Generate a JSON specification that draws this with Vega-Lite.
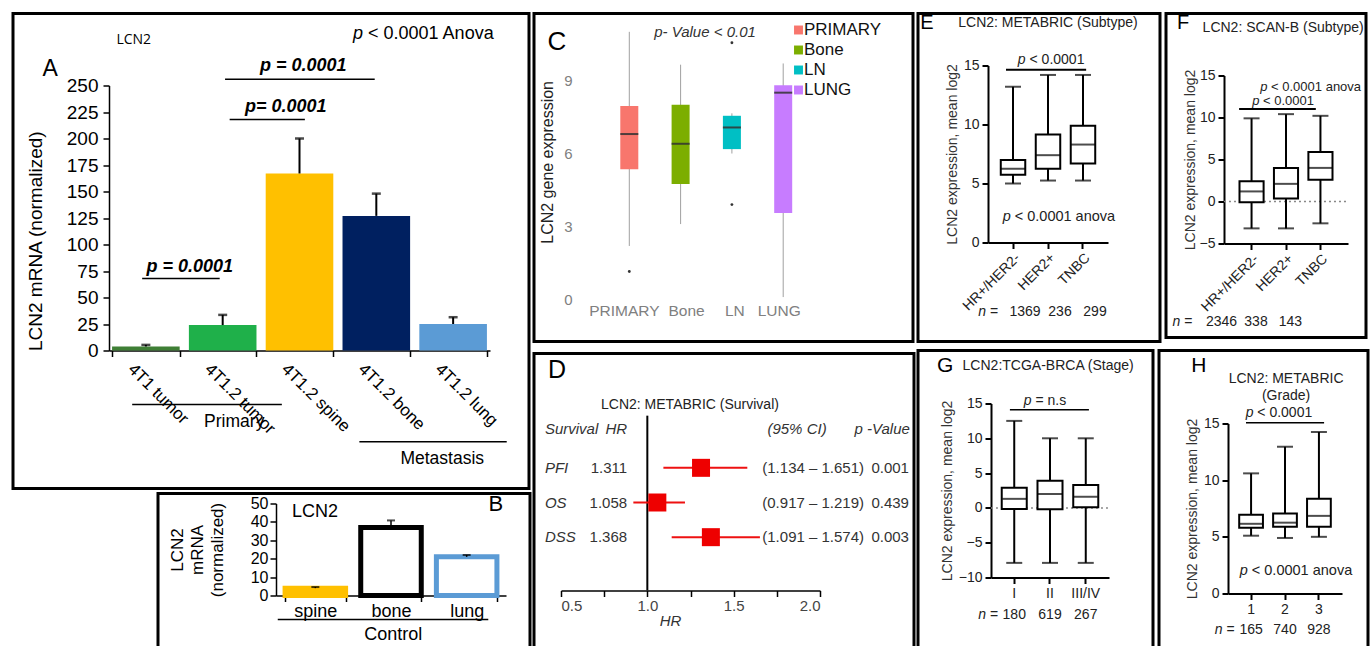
{
"$schema": "https://vega.github.io/schema/vega-lite/v6.json",
"background": "white",
"padding": {"left": 0, "top": 10.5, "right": 0, "bottom": 0},
"config": {
  "font": "Liberation Sans",
  "view": {"stroke": "#000", "strokeWidth": 3},
  "axis": {"grid": false, "domainColor": "#000", "tickColor": "#000", "labelColor": "#000", "titleColor": "#000", "titleFontWeight": "normal", "domainWidth": 1.5, "tickWidth": 1.5},
  "text": {"color": "#000"}
},
"resolve": {"scale": {"color": "independent", "fill": "independent", "stroke": "independent"}, "legend": {"color": "independent", "fill": "independent", "stroke": "independent"}},
"spacing": 0,
"hconcat": [
 {"spacing": 1, "resolve": {"scale": {"color": "independent", "fill": "independent", "stroke": "independent"}, "legend": {"color": "independent", "fill": "independent", "stroke": "independent"}}, "vconcat": [
  {"width": 516, "height": 475,
   "resolve": {"scale": {"x": "independent"}},
   "layer": [
    {"data": {"values": [{}]},
     "layer": [
      {"mark": {"type": "text", "text": "A", "fontSize": 23}, "encoding": {"x": {"datum": -1.25, "type": "quantitative", "scale": {"domain": [0, 4], "range": [133, 440], "nice": false, "zero": false}, "axis": null}, "y": {"datum": 266, "type": "quantitative"}}},
      {"mark": {"type": "text", "text": "LCN2", "fontSize": 14, "font": "Open Sans"}, "encoding": {"x": {"datum": -0.16, "type": "quantitative", "scale": {"domain": [0, 4], "range": [133, 440], "nice": false, "zero": false}, "axis": null}, "y": {"datum": 293, "type": "quantitative"}}},
      {"mark": {"type": "text", "text": "p", "fontSize": 18, "fontStyle": "italic", "align": "left", "dx": -70.8}, "encoding": {"x": {"datum": 3.62, "type": "quantitative", "scale": {"domain": [0, 4], "range": [133, 440], "nice": false, "zero": false}, "axis": null}, "y": {"datum": 299, "type": "quantitative"}}},
      {"mark": {"type": "text", "text": "< 0.0001 Anova", "fontSize": 18, "align": "left", "dx": -55.8}, "encoding": {"x": {"datum": 3.62, "type": "quantitative", "scale": {"domain": [0, 4], "range": [133, 440], "nice": false, "zero": false}, "axis": null}, "y": {"datum": 299, "type": "quantitative"}}},
      {"mark": {"type": "text", "text": "p = 0.0001", "fontSize": 18, "fontStyle": "italic", "fontWeight": "bold"}, "encoding": {"x": {"datum": 2.05, "type": "quantitative", "scale": {"domain": [0, 4], "range": [133, 440], "nice": false, "zero": false}, "axis": null}, "y": {"datum": 268, "type": "quantitative"}}},
      {"mark": {"type": "rule", "strokeWidth": 1.5, "color": "#000"}, "encoding": {"x": {"datum": 1.03, "type": "quantitative", "scale": {"domain": [0, 4], "range": [133, 440], "nice": false, "zero": false}, "axis": null}, "x2": {"datum": 2.98}, "y": {"datum": 256, "type": "quantitative"}}},
      {"mark": {"type": "text", "text": "p= 0.0001", "fontSize": 18, "fontStyle": "italic", "fontWeight": "bold"}, "encoding": {"x": {"datum": 1.82, "type": "quantitative", "scale": {"domain": [0, 4], "range": [133, 440], "nice": false, "zero": false}, "axis": null}, "y": {"datum": 230, "type": "quantitative"}}},
      {"mark": {"type": "rule", "strokeWidth": 1.5, "color": "#000"}, "encoding": {"x": {"datum": 1.09, "type": "quantitative", "scale": {"domain": [0, 4], "range": [133, 440], "nice": false, "zero": false}, "axis": null}, "x2": {"datum": 2.07}, "y": {"datum": 218, "type": "quantitative"}}},
      {"mark": {"type": "text", "text": "p = 0.0001", "fontSize": 18, "fontStyle": "italic", "fontWeight": "bold"}, "encoding": {"x": {"datum": 0.57, "type": "quantitative", "scale": {"domain": [0, 4], "range": [133, 440], "nice": false, "zero": false}, "axis": null}, "y": {"datum": 79, "type": "quantitative"}}},
      {"mark": {"type": "rule", "strokeWidth": 1.5, "color": "#000"}, "encoding": {"x": {"datum": -0.05, "type": "quantitative", "scale": {"domain": [0, 4], "range": [133, 440], "nice": false, "zero": false}, "axis": null}, "x2": {"datum": 0.96}, "y": {"datum": 68, "type": "quantitative"}}},
      {"mark": {"type": "rule", "strokeWidth": 1.5, "color": "#000"}, "encoding": {"x": {"datum": -0.18, "type": "quantitative", "scale": {"domain": [0, 4], "range": [133, 440], "nice": false, "zero": false}, "axis": null}, "x2": {"datum": 1.77}, "y": {"datum": -51, "type": "quantitative"}}},
      {"mark": {"type": "text", "text": "Primary", "fontSize": 17.5}, "encoding": {"x": {"datum": 1.15, "type": "quantitative", "scale": {"domain": [0, 4], "range": [133, 440], "nice": false, "zero": false}, "axis": null}, "y": {"datum": -67, "type": "quantitative"}}},
      {"mark": {"type": "rule", "strokeWidth": 1.5, "color": "#000"}, "encoding": {"x": {"datum": 2.78, "type": "quantitative", "scale": {"domain": [0, 4], "range": [133, 440], "nice": false, "zero": false}, "axis": null}, "x2": {"datum": 4.7}, "y": {"datum": -86, "type": "quantitative"}}},
      {"mark": {"type": "text", "text": "Metastasis", "fontSize": 17.5}, "encoding": {"x": {"datum": 3.86, "type": "quantitative", "scale": {"domain": [0, 4], "range": [133, 440], "nice": false, "zero": false}, "axis": null}, "y": {"datum": -102, "type": "quantitative"}}}
     ]},
    {"data": {"values": [
      {"group": "4T1 tumor", "mean": 3.8, "upper": 5.3},
      {"group": "4T1.2 tumor", "mean": 24, "upper": 33.6},
      {"group": "4T1.2 spine", "mean": 167, "upper": 200},
      {"group": "4T1.2 bone", "mean": 127, "upper": 148},
      {"group": "4T1.2 lung", "mean": 25, "upper": 31.4}
     ]},
     "encoding": {"x": {"field": "group", "type": "nominal", "sort": null, "scale": {"range": [96, 477], "paddingInner": 0.12, "paddingOuter": 0.04},
        "axis": {"title": null, "labelAngle": 45, "labelAlign": "left", "labelBaseline": "top", "labelFontSize": 17, "offset": -138, "tickBand": "extent", "tickSize": 6, "labelPadding": 4, "labelOffset": -10}}},
     "layer": [
      {"mark": {"type": "bar"}, "encoding": {
        "y": {"field": "mean", "type": "quantitative", "scale": {"domain": [0, 250], "range": [337, 72], "nice": false},
              "axis": {"title": "LCN2 mRNA (normalized)", "values": [0, 25, 50, 75, 100, 125, 150, 175, 200, 225, 250], "offset": -96, "labelFontSize": 19, "titleFontSize": 19, "tickSize": 6, "labelPadding": 5, "titlePadding": 21, "titleAnchor": "start", "labelOverlap": false}},
        "color": {"field": "group", "type": "nominal", "sort": null, "scale": {"range": ["#3f7f35", "#1fb04a", "#ffc000", "#002060", "#5b9bd5"]}, "legend": null}}},
      {"mark": {"type": "rule", "strokeWidth": 2, "color": "#000"}, "encoding": {"y": {"field": "mean", "type": "quantitative"}, "y2": {"field": "upper"}}},
      {"mark": {"type": "tick", "thickness": 2.5, "size": 9, "color": "#000"}, "encoding": {"y": {"field": "upper", "type": "quantitative"}}}
     ]}
   ]},
  {"spacing": 1, "resolve": {"scale": {"color": "independent", "fill": "independent", "stroke": "independent"}, "legend": {"color": "independent", "fill": "independent", "stroke": "independent"}}, "hconcat": [
    {"width": 140, "height": 160, "view": {"stroke": "#ffffff", "strokeWidth": 3}, "data": {"values": [{}]}, "mark": {"type": "text", "text": ""}, "encoding": {}},
    {"width": 372, "height": 160,
     "resolve": {"scale": {"x": "independent"}},
     "layer": [
      {"data": {"values": [{}]},
       "layer": [
        {"mark": {"type": "rule", "strokeWidth": 1.5, "color": "#000"}, "encoding": {"x": {"datum": -0.49, "type": "quantitative", "scale": {"domain": [0, 2], "range": [157, 309], "nice": false, "zero": false}, "axis": null}, "x2": {"datum": 2.28}, "y": {"datum": -13, "type": "quantitative"}}},
        {"mark": {"type": "text", "text": "Control", "fontSize": 18}, "encoding": {"x": {"datum": 1.03, "type": "quantitative", "scale": {"domain": [0, 2], "range": [157, 309], "nice": false, "zero": false}, "axis": null}, "y": {"datum": -21.7, "type": "quantitative"}}},
        {"mark": {"type": "text", "text": "LCN2", "fontSize": 18}, "encoding": {"x": {"datum": 0.0, "type": "quantitative", "scale": {"domain": [0, 2], "range": [157, 309], "nice": false, "zero": false}, "axis": null}, "y": {"datum": 45.6, "type": "quantitative"}}},
        {"mark": {"type": "text", "text": "B", "fontSize": 22}, "encoding": {"x": {"datum": 2.38, "type": "quantitative", "scale": {"domain": [0, 2], "range": [157, 309], "nice": false, "zero": false}, "axis": null}, "y": {"datum": 49.5, "type": "quantitative"}}}
       ]},
      {"data": {"values": [
        {"site": "spine", "mean": 4, "upper": 4.6},
        {"site": "bone", "mean": 37, "upper": 40.8},
        {"site": "lung", "mean": 21, "upper": 22}
       ]},
       "encoding": {"x": {"field": "site", "type": "nominal", "sort": null, "scale": {"range": [118, 348], "paddingInner": 0.2, "paddingOuter": 0.12},
          "axis": {"title": null, "labelAngle": 0, "labelFontSize": 18, "offset": -58, "tickBand": "extent", "tickSize": 6, "labelPadding": 1}}},
       "layer": [
        {"mark": {"type": "bar", "strokeWidth": 5}, "encoding": {
          "y": {"field": "mean", "type": "quantitative", "scale": {"domain": [0, 50], "range": [102, 10], "nice": false},
                "axis": {"title": ["LCN2", "mRNA", "(normalized)"], "values": [0, 10, 20, 30, 40, 50], "tickCount": 6, "offset": -118, "labelFontSize": 16, "labelOverlap": false, "titleFontSize": 17, "tickSize": 6, "labelPadding": 2, "titlePadding": 24, "titleLineHeight": 20}},
          "fill": {"field": "site", "type": "nominal", "sort": null, "scale": {"range": ["#ffc000", "#ffffff", "#ffffff"]}, "legend": null},
          "stroke": {"field": "site", "type": "nominal", "sort": null, "scale": {"range": ["#ffc000", "#000000", "#5b9bd5"]}, "legend": null}}},
        {"mark": {"type": "rule", "strokeWidth": 1.5, "color": "#000"}, "encoding": {"y": {"field": "mean", "type": "quantitative"}, "y2": {"field": "upper"}}},
        {"mark": {"type": "tick", "thickness": 2, "size": 8, "color": "#000"}, "encoding": {"y": {"field": "upper", "type": "quantitative"}}}
       ]}
     ]}
  ]}
 ]},
 {"spacing": 8, "resolve": {"scale": {"color": "independent"}, "legend": {"color": "independent"}}, "vconcat": [
  {"width": 379, "height": 328,
   "resolve": {"scale": {"x": "independent"}},
   "layer": [
    {"data": {"values": [{}]},
     "layer": [
      {"mark": {"type": "text", "text": "C", "fontSize": 26}, "encoding": {"x": {"datum": -1.41, "type": "quantitative", "scale": {"domain": [0, 3], "range": [95.3, 249.2], "nice": false, "zero": false}, "axis": null}, "y": {"datum": 10.6, "type": "quantitative"}}},
      {"mark": {"type": "text", "text": "p- Value < 0.01", "fontSize": 15, "fontStyle": "italic", "color": "#333"}, "encoding": {"x": {"datum": 1.476, "type": "quantitative", "scale": {"domain": [0, 3], "range": [95.3, 249.2], "nice": false, "zero": false}, "axis": null}, "y": {"datum": 11.0, "type": "quantitative"}}}
     ]},
    {"data": {"values": [
      {"site": "PRIMARY", "low": 2.2, "q1": 5.35, "median": 6.8, "q3": 7.95, "high": 11.0},
      {"site": "Bone", "low": 3.1, "q1": 4.75, "median": 6.4, "q3": 8.0, "high": 9.65},
      {"site": "LN", "low": 6.0, "q1": 6.18, "median": 7.07, "q3": 7.55, "high": 7.65},
      {"site": "LUNG", "low": 0.1, "q1": 3.55, "median": 8.5, "q3": 8.8, "high": 9.7}
     ]},
     "encoding": {"x": {"field": "site", "type": "nominal", "sort": null, "scale": {"range": [42, 302.5], "paddingInner": 0.649, "paddingOuter": 0.8635},
        "axis": {"title": null, "labelAngle": 0, "domain": false, "ticks": false, "labelColor": "#808080", "labelFontSize": 15.5, "offset": -40, "labelPadding": 2,
                 "labelOffset": {"condition": [{"test": "datum.value === 'PRIMARY'", "value": -5}, {"test": "datum.value === 'Bone'", "value": 6}, {"test": "datum.value === 'LN'", "value": 3}, {"test": "datum.value === 'LUNG'", "value": -4}], "value": 0}}}},
     "layer": [
      {"mark": {"type": "rule", "color": "#a0a0a0", "strokeWidth": 1}, "encoding": {
        "y": {"field": "low", "type": "quantitative", "scale": {"domain": [0, 9], "range": [286, 67], "nice": false, "zero": false},
              "axis": {"title": "LCN2 gene expression", "values": [0, 3, 6, 9], "domain": false, "ticks": false, "labelColor": "#808080", "labelFontSize": 15, "offset": -42, "labelPadding": 4, "titleFontSize": 16, "titleColor": "#222", "titleAnchor": "end", "titlePadding": 8}},
        "y2": {"field": "high"}}},
      {"mark": {"type": "bar"}, "encoding": {
        "y": {"field": "q1", "type": "quantitative"}, "y2": {"field": "q3"},
        "color": {"field": "site", "type": "nominal", "sort": null, "scale": {"domain": ["PRIMARY", "Bone", "LN", "LUNG"], "range": ["#F8766D", "#7CAE00", "#00BFC4", "#C77CFF"]},
                  "legend": {"title": null, "orient": "none", "legendX": 256, "legendY": 8, "padding": 0, "symbolType": "square", "symbolSize": 80, "labelFontSize": 17, "rowPadding": 2, "labelColor": "#111", "labelOffset": -3}}}},
      {"mark": {"type": "tick", "color": "#333", "thickness": 2, "size": 18, "opacity": 0.85}, "encoding": {"y": {"field": "median", "type": "quantitative"}}},
      {"data": {"values": [{"site": "PRIMARY", "value": 1.15}, {"site": "LN", "value": 3.9}, {"site": "LN", "value": 10.55}]},
       "mark": {"type": "circle", "size": 8, "color": "#333", "opacity": 1}, "encoding": {"y": {"field": "value", "type": "quantitative"}}}
     ]}
   ]},
  {"width": 380, "height": 305,
   "resolve": {"scale": {"y": "independent"}},
   "layer": [
    {"data": {"values": [{}]},
     "layer": [
      {"mark": {"type": "rule", "strokeWidth": 2, "color": "#000"}, "encoding": {"x": {"datum": 1, "type": "quantitative"}, "y": {"datum": -0.67, "type": "quantitative", "scale": {"domain": [0, 2], "range": [97, 201], "nice": false, "zero": false}, "axis": null}, "y2": {"datum": 2.69}}},
      {"mark": {"type": "text", "text": "Survival", "fontSize": 15, "fontStyle": "italic", "align": "left", "color": "#333"}, "encoding": {"x": {"datum": 0.407, "type": "quantitative"}, "y": {"datum": -0.42, "type": "quantitative", "scale": {"domain": [0, 2], "range": [97, 201], "nice": false, "zero": false}, "axis": null}}},
      {"mark": {"type": "text", "text": "HR", "fontSize": 15, "fontStyle": "italic", "align": "right", "color": "#333"}, "encoding": {"x": {"datum": 0.883, "type": "quantitative"}, "y": {"datum": -0.42, "type": "quantitative", "scale": {"domain": [0, 2], "range": [97, 201], "nice": false, "zero": false}, "axis": null}}},
      {"mark": {"type": "text", "text": "(95% CI)", "fontSize": 15, "fontStyle": "italic", "color": "#333"}, "encoding": {"x": {"datum": 1.867, "type": "quantitative"}, "y": {"datum": -0.42, "type": "quantitative", "scale": {"domain": [0, 2], "range": [97, 201], "nice": false, "zero": false}, "axis": null}}},
      {"mark": {"type": "text", "text": "p -Value", "fontSize": 15, "fontStyle": "italic", "color": "#333"}, "encoding": {"x": {"datum": 2.36, "type": "quantitative"}, "y": {"datum": -0.42, "type": "quantitative", "scale": {"domain": [0, 2], "range": [97, 201], "nice": false, "zero": false}, "axis": null}}},
      {"mark": {"type": "text", "text": "LCN2: METABRIC (Survival)", "fontSize": 14, "color": "#222"}, "encoding": {"x": {"datum": 1.247, "type": "quantitative"}, "y": {"datum": -0.87, "type": "quantitative", "scale": {"domain": [0, 2], "range": [97, 201], "nice": false, "zero": false}, "axis": null}}},
      {"mark": {"type": "text", "text": "D", "fontSize": 25}, "encoding": {"x": {"datum": 0.477, "type": "quantitative"}, "y": {"datum": -1.54, "type": "quantitative", "scale": {"domain": [0, 2], "range": [97, 201], "nice": false, "zero": false}, "axis": null}}}
     ]},
    {"data": {"values": [
      {"outcome": "PFI", "hr": 1.311, "lo": 1.093, "hi": 1.579, "ci": "(1.134 – 1.651)", "p": "0.001"},
      {"outcome": "OS", "hr": 1.058, "lo": 0.919, "hi": 1.218, "ci": "(0.917 – 1.219)", "p": "0.439"},
      {"outcome": "DSS", "hr": 1.368, "lo": 1.141, "hi": 1.652, "ci": "(1.091 – 1.574)", "p": "0.003"}
     ]},
     "encoding": {"y": {"field": "outcome", "type": "nominal", "sort": null, "scale": {"range": [97, 201], "padding": 0}, "axis": null}},
     "layer": [
      {"mark": {"type": "rule", "strokeWidth": 2, "color": "#ee1111"}, "encoding": {
        "x": {"field": "lo", "type": "quantitative", "scale": {"domain": [0.5, 2], "range": [27, 286], "nice": false, "zero": false},
              "axis": {"title": "HR", "values": [0.5, 0.75, 1, 1.25, 1.5, 1.75, 2], "labelExpr": "datum.value * 2 % 1 == 0 ? format(datum.value, '.1f') : ''", "offset": -68, "labelFontSize": 15, "labelColor": "#444", "titleFontSize": 15, "titleFontStyle": "italic", "titleColor": "#333", "tickSize": 6, "titleX": 136, "titleY": 30, "titleBaseline": "middle"}},
        "x2": {"field": "hi"}}},
      {"mark": {"type": "square", "size": 324, "color": "#ee0000", "opacity": 1}, "encoding": {"x": {"field": "hr", "type": "quantitative"}}},
      {"mark": {"type": "text", "fontSize": 15, "fontStyle": "italic", "align": "left", "color": "#333"}, "encoding": {"x": {"datum": 0.407, "type": "quantitative"}, "text": {"field": "outcome"}}},
      {"mark": {"type": "text", "fontSize": 15, "align": "right", "color": "#333"}, "encoding": {"x": {"datum": 0.883, "type": "quantitative"}, "text": {"field": "hr", "type": "quantitative", "format": ".3f"}}},
      {"mark": {"type": "text", "fontSize": 15, "align": "right", "color": "#333"}, "encoding": {"x": {"datum": 2.255, "type": "quantitative"}, "text": {"field": "ci"}}},
      {"mark": {"type": "text", "fontSize": 15, "align": "right", "color": "#333"}, "encoding": {"x": {"datum": 2.515, "type": "quantitative"}, "text": {"field": "p"}}}
     ]}
   ]}
 ]},
 {"spacing": 5, "vconcat": [
  {"spacing": 2, "hconcat": [
   {"width": 242, "height": 328,
    "resolve": {"scale": {"x": "independent"}},
    "layer": [
     {"data": {"values": [{}]},
      "layer": [
       {"mark": {"type": "text", "text": "E", "fontSize": 20}, "encoding": {"x": {"datum": -2.46, "type": "quantitative", "scale": {"domain": [0, 2], "range": [95, 165], "nice": false, "zero": false}, "axis": null}, "y": {"datum": 18.64, "type": "quantitative"}}},
       {"mark": {"type": "text", "text": "LCN2: METABRIC (Subtype)", "fontSize": 14, "color": "#222"}, "encoding": {"x": {"datum": 1.0, "type": "quantitative", "scale": {"domain": [0, 2], "range": [95, 165], "nice": false, "zero": false}, "axis": null}, "y": {"datum": 18.64, "type": "quantitative"}}},
       {"mark": {"type": "text", "text": "p", "fontSize": 14, "fontStyle": "italic", "align": "left", "dx": -33.3, "color": "#222"}, "encoding": {"x": {"datum": 1.09, "type": "quantitative", "scale": {"domain": [0, 2], "range": [95, 165], "nice": false, "zero": false}, "axis": null}, "y": {"datum": 15.5, "type": "quantitative"}}},
       {"mark": {"type": "text", "text": "< 0.0001", "fontSize": 14, "align": "left", "dx": -21.6, "color": "#222"}, "encoding": {"x": {"datum": 1.09, "type": "quantitative", "scale": {"domain": [0, 2], "range": [95, 165], "nice": false, "zero": false}, "axis": null}, "y": {"datum": 15.5, "type": "quantitative"}}},
       {"mark": {"type": "rule", "strokeWidth": 2, "color": "#000"}, "encoding": {"x": {"datum": -0.2, "type": "quantitative", "scale": {"domain": [0, 2], "range": [95, 165], "nice": false, "zero": false}, "axis": null}, "x2": {"datum": 2.09}, "y": {"datum": 14.65, "type": "quantitative"}}},
       {"mark": {"type": "text", "text": "p", "fontSize": 14.5, "fontStyle": "italic", "align": "left", "dx": -56.2, "color": "#222"}, "encoding": {"x": {"datum": 1.31, "type": "quantitative", "scale": {"domain": [0, 2], "range": [95, 165], "nice": false, "zero": false}, "axis": null}, "y": {"datum": 2.2, "type": "quantitative"}}},
       {"mark": {"type": "text", "text": "< 0.0001 anova", "fontSize": 14.5, "align": "left", "dx": -44.1, "color": "#222"}, "encoding": {"x": {"datum": 1.31, "type": "quantitative", "scale": {"domain": [0, 2], "range": [95, 165], "nice": false, "zero": false}, "axis": null}, "y": {"datum": 2.2, "type": "quantitative"}}},
       {"mark": {"type": "text", "text": "n", "fontSize": 14, "fontStyle": "italic", "align": "left", "dx": -9.9, "color": "#222"}, "encoding": {"x": {"datum": -0.71, "type": "quantitative", "scale": {"domain": [0, 2], "range": [95, 165], "nice": false, "zero": false}, "axis": null}, "y": {"datum": -5.85, "type": "quantitative"}}},
       {"mark": {"type": "text", "text": "=", "fontSize": 14, "align": "left", "dx": 1.8, "color": "#222"}, "encoding": {"x": {"datum": -0.71, "type": "quantitative", "scale": {"domain": [0, 2], "range": [95, 165], "nice": false, "zero": false}, "axis": null}, "y": {"datum": -5.85, "type": "quantitative"}}}
      ]},
     {"data": {"values": [
       {"subtype": "HR+/HER2-", "low": 5.0, "q1": 5.75, "median": 6.25, "q3": 7.0, "high": 13.2, "n": 1369},
       {"subtype": "HER2+", "low": 5.25, "q1": 6.25, "median": 7.4, "q3": 9.15, "high": 14.2, "n": 236},
       {"subtype": "TNBC", "low": 5.25, "q1": 6.7, "median": 8.3, "q3": 9.9, "high": 14.2, "n": 299}
      ]},
      "encoding": {"x": {"field": "subtype", "type": "nominal", "sort": null, "scale": {"range": [70, 190], "paddingInner": 0.3, "paddingOuter": 0.365},
         "axis": {"title": null, "labelAngle": -45, "labelFontSize": 14, "labelColor": "#222", "offset": -99, "tickSize": 6, "domainWidth": 2, "tickWidth": 2, "labelPadding": 2}}},
      "layer": [
       {"mark": {"type": "rule", "strokeWidth": 2, "color": "#000"}, "encoding": {
         "y": {"field": "low", "type": "quantitative", "scale": {"domain": [0, 15], "range": [229, 52], "nice": false, "zero": false},
               "axis": {"title": "LCN2 expression, mean log2", "values": [0, 5, 10, 15], "offset": -70, "labelFontSize": 14, "labelColor": "#222", "titleFontSize": 14, "titleColor": "#333", "tickSize": 6, "domainWidth": 2, "tickWidth": 2, "labelPadding": 3, "titlePadding": 4}},
         "y2": {"field": "high"}}},
       {"mark": {"type": "bar", "fill": "#fff", "stroke": "#000", "strokeWidth": 2}, "encoding": {"y": {"field": "q1", "type": "quantitative"}, "y2": {"field": "q3"}}},
       {"mark": {"type": "tick", "color": "#000", "thickness": 2, "size": 24}, "encoding": {"y": {"field": "median", "type": "quantitative"}}},
       {"mark": {"type": "tick", "color": "#000", "thickness": 2, "size": 16}, "encoding": {"y": {"field": "low", "type": "quantitative"}}},
       {"mark": {"type": "tick", "color": "#000", "thickness": 2, "size": 16}, "encoding": {"y": {"field": "high", "type": "quantitative"}}},
       {"mark": {"type": "text", "fontSize": 14, "dx": 12, "color": "#222"}, "encoding": {"y": {"datum": -5.85, "type": "quantitative"}, "text": {"field": "n"}}}
      ]}
    ]},
   {"width": 200, "height": 324,
    "resolve": {"scale": {"x": "independent"}},
    "layer": [
     {"data": {"values": [{}]},
      "layer": [
       {"mark": {"type": "rule", "strokeWidth": 1.5, "color": "#888", "strokeDash": [2, 3]}, "encoding": {"x": {"datum": -0.8, "type": "quantitative", "scale": {"domain": [0, 2], "range": [85.5, 154.3], "nice": false, "zero": false}, "axis": null}, "x2": {"datum": 2.8}, "y": {"datum": 0, "type": "quantitative"}}},
       {"mark": {"type": "text", "text": "F", "fontSize": 20}, "encoding": {"x": {"datum": -1.99, "type": "quantitative", "scale": {"domain": [0, 2], "range": [85.5, 154.3], "nice": false, "zero": false}, "axis": null}, "y": {"datum": 21.3, "type": "quantitative"}}},
       {"mark": {"type": "text", "text": "LCN2: SCAN-B (Subtype)", "fontSize": 14, "color": "#222"}, "encoding": {"x": {"datum": 0.92, "type": "quantitative", "scale": {"domain": [0, 2], "range": [85.5, 154.3], "nice": false, "zero": false}, "axis": null}, "y": {"datum": 20.6, "type": "quantitative"}}},
       {"mark": {"type": "text", "text": "p", "fontSize": 13, "fontStyle": "italic", "align": "left", "dx": -50.4, "color": "#222"}, "encoding": {"x": {"datum": 1.72, "type": "quantitative", "scale": {"domain": [0, 2], "range": [85.5, 154.3], "nice": false, "zero": false}, "axis": null}, "y": {"datum": 13.65, "type": "quantitative"}}},
       {"mark": {"type": "text", "text": "< 0.0001 anova", "fontSize": 13, "align": "left", "dx": -39.6, "color": "#222"}, "encoding": {"x": {"datum": 1.72, "type": "quantitative", "scale": {"domain": [0, 2], "range": [85.5, 154.3], "nice": false, "zero": false}, "axis": null}, "y": {"datum": 13.65, "type": "quantitative"}}},
       {"mark": {"type": "text", "text": "p", "fontSize": 13, "fontStyle": "italic", "align": "left", "dx": -30.9, "color": "#222"}, "encoding": {"x": {"datum": 0.92, "type": "quantitative", "scale": {"domain": [0, 2], "range": [85.5, 154.3], "nice": false, "zero": false}, "axis": null}, "y": {"datum": 11.95, "type": "quantitative"}}},
       {"mark": {"type": "text", "text": "< 0.0001", "fontSize": 13, "align": "left", "dx": -20.1, "color": "#222"}, "encoding": {"x": {"datum": 0.92, "type": "quantitative", "scale": {"domain": [0, 2], "range": [85.5, 154.3], "nice": false, "zero": false}, "axis": null}, "y": {"datum": 11.95, "type": "quantitative"}}},
       {"mark": {"type": "rule", "strokeWidth": 2, "color": "#000"}, "encoding": {"x": {"datum": -0.36, "type": "quantitative", "scale": {"domain": [0, 2], "range": [85.5, 154.3], "nice": false, "zero": false}, "axis": null}, "x2": {"datum": 1.87}, "y": {"datum": 11.0, "type": "quantitative"}}},
       {"mark": {"type": "text", "text": "n", "fontSize": 14, "fontStyle": "italic", "align": "left", "dx": -9.9, "color": "#222"}, "encoding": {"x": {"datum": -2.01, "type": "quantitative", "scale": {"domain": [0, 2], "range": [85.5, 154.3], "nice": false, "zero": false}, "axis": null}, "y": {"datum": -14.3, "type": "quantitative"}}},
       {"mark": {"type": "text", "text": "=", "fontSize": 14, "align": "left", "dx": 1.8, "color": "#222"}, "encoding": {"x": {"datum": -2.01, "type": "quantitative", "scale": {"domain": [0, 2], "range": [85.5, 154.3], "nice": false, "zero": false}, "axis": null}, "y": {"datum": -14.3, "type": "quantitative"}}}
      ]},
     {"data": {"values": [
       {"subtype": "HR+/HER2-", "low": -3.2, "q1": -0.1, "median": 1.2, "q3": 2.4, "high": 9.9, "n": 2346},
       {"subtype": "HER2+", "low": -3.2, "q1": 0.35, "median": 2.1, "q3": 4.0, "high": 10.4, "n": 338},
       {"subtype": "TNBC", "low": -2.6, "q1": 2.6, "median": 4.0, "q3": 5.9, "high": 10.2, "n": 143}
      ]},
      "encoding": {"x": {"field": "subtype", "type": "nominal", "sort": null, "scale": {"range": [58, 182], "paddingInner": 0.3, "paddingOuter": 0.45},
         "axis": {"title": null, "labelAngle": -45, "labelFontSize": 14, "labelColor": "#222", "offset": -94, "tickSize": 6, "domainWidth": 2, "tickWidth": 2, "labelPadding": 2}}},
      "layer": [
       {"mark": {"type": "rule", "strokeWidth": 2, "color": "#000"}, "encoding": {
         "y": {"field": "low", "type": "quantitative", "scale": {"domain": [-5, 15], "range": [230, 62], "nice": false, "zero": false},
               "axis": {"title": "LCN2 expression, mean log2", "values": [-5, 0, 5, 10, 15], "offset": -58, "labelFontSize": 14, "labelColor": "#222", "titleFontSize": 14, "titleColor": "#333", "tickSize": 6, "domainWidth": 2, "tickWidth": 2, "labelPadding": 3, "titlePadding": 2}},
         "y2": {"field": "high"}}},
       {"mark": {"type": "bar", "fill": "#fff", "stroke": "#000", "strokeWidth": 2}, "encoding": {"y": {"field": "q1", "type": "quantitative"}, "y2": {"field": "q3"}}},
       {"mark": {"type": "tick", "color": "#000", "thickness": 2, "size": 24}, "encoding": {"y": {"field": "median", "type": "quantitative"}}},
       {"mark": {"type": "tick", "color": "#000", "thickness": 2, "size": 16}, "encoding": {"y": {"field": "low", "type": "quantitative"}}},
       {"mark": {"type": "tick", "color": "#000", "thickness": 2, "size": 16}, "encoding": {"y": {"field": "high", "type": "quantitative"}}},
       {"mark": {"type": "text", "fontSize": 14, "dx": -30, "color": "#222"}, "encoding": {"y": {"datum": -14.3, "type": "quantitative"}, "text": {"field": "n"}}}
      ]}
    ]}
  ]},
  {"spacing": 2, "hconcat": [
   {"width": 235, "height": 305,
    "resolve": {"scale": {"x": "independent"}},
    "layer": [
     {"data": {"values": [{}]},
      "layer": [
       {"mark": {"type": "rule", "strokeWidth": 1.5, "color": "#888", "strokeDash": [2, 3]}, "encoding": {"x": {"datum": -0.65, "type": "quantitative", "scale": {"domain": [0, 2], "range": [96.2, 167.7], "nice": false, "zero": false}, "axis": null}, "x2": {"datum": 2.65}, "y": {"datum": 0, "type": "quantitative"}}},
       {"mark": {"type": "text", "text": "G", "fontSize": 21}, "encoding": {"x": {"datum": -1.93, "type": "quantitative", "scale": {"domain": [0, 2], "range": [96.2, 167.7], "nice": false, "zero": false}, "axis": null}, "y": {"datum": 20.4, "type": "quantitative"}}},
       {"mark": {"type": "text", "text": "LCN2:TCGA-BRCA (Stage)", "fontSize": 14, "color": "#222"}, "encoding": {"x": {"datum": 0.95, "type": "quantitative", "scale": {"domain": [0, 2], "range": [96.2, 167.7], "nice": false, "zero": false}, "axis": null}, "y": {"datum": 20.4, "type": "quantitative"}}},
       {"mark": {"type": "text", "text": "p", "fontSize": 14, "fontStyle": "italic", "align": "left", "dx": -21.2, "color": "#222"}, "encoding": {"x": {"datum": 0.86, "type": "quantitative", "scale": {"domain": [0, 2], "range": [96.2, 167.7], "nice": false, "zero": false}, "axis": null}, "y": {"datum": 15.4, "type": "quantitative"}}},
       {"mark": {"type": "text", "text": "= n.s", "fontSize": 14, "align": "left", "dx": -9.5, "color": "#222"}, "encoding": {"x": {"datum": 0.86, "type": "quantitative", "scale": {"domain": [0, 2], "range": [96.2, 167.7], "nice": false, "zero": false}, "axis": null}, "y": {"datum": 15.4, "type": "quantitative"}}},
       {"mark": {"type": "rule", "strokeWidth": 1.5, "color": "#000"}, "encoding": {"x": {"datum": -0.12, "type": "quantitative", "scale": {"domain": [0, 2], "range": [96.2, 167.7], "nice": false, "zero": false}, "axis": null}, "x2": {"datum": 2.09}, "y": {"datum": 14.1, "type": "quantitative"}}},
       {"mark": {"type": "text", "text": "n", "fontSize": 14, "fontStyle": "italic", "align": "left", "dx": -9.9, "color": "#222"}, "encoding": {"x": {"datum": -0.73, "type": "quantitative", "scale": {"domain": [0, 2], "range": [96.2, 167.7], "nice": false, "zero": false}, "axis": null}, "y": {"datum": -15.4, "type": "quantitative"}}},
       {"mark": {"type": "text", "text": "=", "fontSize": 14, "align": "left", "dx": 1.8, "color": "#222"}, "encoding": {"x": {"datum": -0.73, "type": "quantitative", "scale": {"domain": [0, 2], "range": [96.2, 167.7], "nice": false, "zero": false}, "axis": null}, "y": {"datum": -15.4, "type": "quantitative"}}}
      ]},
     {"data": {"values": [
       {"stage": "I", "low": -7.9, "q1": -0.15, "median": 1.3, "q3": 2.9, "high": 12.5, "n": 180},
       {"stage": "II", "low": -7.9, "q1": -0.2, "median": 2.0, "q3": 3.9, "high": 10.0, "n": 619},
       {"stage": "III/IV", "low": -7.9, "q1": 0.1, "median": 1.6, "q3": 3.3, "high": 10.0, "n": 267}
      ]},
      "encoding": {"x": {"field": "stage", "type": "nominal", "sort": null, "scale": {"range": [73, 191], "paddingInner": 0.3, "paddingOuter": 0.3},
         "axis": {"title": null, "labelAngle": 0, "labelFontSize": 14, "labelColor": "#222", "offset": -78, "tickSize": 6, "domainWidth": 2, "tickWidth": 2, "labelPadding": 3}}},
      "layer": [
       {"mark": {"type": "rule", "strokeWidth": 2, "color": "#000"}, "encoding": {
         "y": {"field": "low", "type": "quantitative", "scale": {"domain": [-10, 15], "range": [227, 53], "nice": false, "zero": false},
               "axis": {"title": "LCN2 expression, mean log2", "values": [-10, -5, 0, 5, 10, 15], "offset": -73, "labelFontSize": 14, "labelColor": "#222", "titleFontSize": 14, "titleColor": "#333", "tickSize": 6, "domainWidth": 2, "tickWidth": 2, "labelPadding": 3, "titlePadding": 4}},
         "y2": {"field": "high"}}},
       {"mark": {"type": "bar", "fill": "#fff", "stroke": "#000", "strokeWidth": 2}, "encoding": {"y": {"field": "q1", "type": "quantitative"}, "y2": {"field": "q3"}}},
       {"mark": {"type": "tick", "color": "#000", "thickness": 2, "size": 24}, "encoding": {"y": {"field": "median", "type": "quantitative"}}},
       {"mark": {"type": "tick", "color": "#000", "thickness": 2, "size": 16}, "encoding": {"y": {"field": "low", "type": "quantitative"}}},
       {"mark": {"type": "tick", "color": "#000", "thickness": 2, "size": 16}, "encoding": {"y": {"field": "high", "type": "quantitative"}}},
       {"mark": {"type": "text", "fontSize": 14, "color": "#222"}, "encoding": {"y": {"datum": -15.4, "type": "quantitative"}, "text": {"field": "n"}}}
      ]}
    ]},
   {"width": 209, "height": 305,
    "resolve": {"scale": {"x": "independent"}},
    "layer": [
     {"data": {"values": [{}]},
      "layer": [
       {"mark": {"type": "text", "text": "H", "fontSize": 21}, "encoding": {"x": {"datum": -1.54, "type": "quantitative", "scale": {"domain": [0, 2], "range": [92.1, 160], "nice": false, "zero": false}, "axis": null}, "y": {"datum": 20.1, "type": "quantitative"}}},
       {"mark": {"type": "text", "text": "LCN2: METABRIC", "fontSize": 14, "color": "#222"}, "encoding": {"x": {"datum": 1.03, "type": "quantitative", "scale": {"domain": [0, 2], "range": [92.1, 160], "nice": false, "zero": false}, "axis": null}, "y": {"datum": 18.94, "type": "quantitative"}}},
       {"mark": {"type": "text", "text": "(Grade)", "fontSize": 14, "color": "#222"}, "encoding": {"x": {"datum": 1.03, "type": "quantitative", "scale": {"domain": [0, 2], "range": [92.1, 160], "nice": false, "zero": false}, "axis": null}, "y": {"datum": 17.44, "type": "quantitative"}}},
       {"mark": {"type": "text", "text": "p", "fontSize": 14, "fontStyle": "italic", "align": "left", "dx": -33.3, "color": "#222"}, "encoding": {"x": {"datum": 0.82, "type": "quantitative", "scale": {"domain": [0, 2], "range": [92.1, 160], "nice": false, "zero": false}, "axis": null}, "y": {"datum": 15.95, "type": "quantitative"}}},
       {"mark": {"type": "text", "text": "< 0.0001", "fontSize": 14, "align": "left", "dx": -21.6, "color": "#222"}, "encoding": {"x": {"datum": 0.82, "type": "quantitative", "scale": {"domain": [0, 2], "range": [92.1, 160], "nice": false, "zero": false}, "axis": null}, "y": {"datum": 15.95, "type": "quantitative"}}},
       {"mark": {"type": "rule", "strokeWidth": 1.5, "color": "#000"}, "encoding": {"x": {"datum": -0.15, "type": "quantitative", "scale": {"domain": [0, 2], "range": [92.1, 160], "nice": false, "zero": false}, "axis": null}, "x2": {"datum": 2.15}, "y": {"datum": 15.07, "type": "quantitative"}}},
       {"mark": {"type": "text", "text": "p", "fontSize": 14.5, "fontStyle": "italic", "align": "left", "dx": -56.2, "color": "#222"}, "encoding": {"x": {"datum": 1.32, "type": "quantitative", "scale": {"domain": [0, 2], "range": [92.1, 160], "nice": false, "zero": false}, "axis": null}, "y": {"datum": 2.0, "type": "quantitative"}}},
       {"mark": {"type": "text", "text": "< 0.0001 anova", "fontSize": 14.5, "align": "left", "dx": -44.1, "color": "#222"}, "encoding": {"x": {"datum": 1.32, "type": "quantitative", "scale": {"domain": [0, 2], "range": [92.1, 160], "nice": false, "zero": false}, "axis": null}, "y": {"datum": 2.0, "type": "quantitative"}}},
       {"mark": {"type": "text", "text": "n", "fontSize": 14, "fontStyle": "italic", "align": "left", "dx": -9.9, "color": "#222"}, "encoding": {"x": {"datum": -0.78, "type": "quantitative", "scale": {"domain": [0, 2], "range": [92.1, 160], "nice": false, "zero": false}, "axis": null}, "y": {"datum": -3.26, "type": "quantitative"}}},
       {"mark": {"type": "text", "text": "=", "fontSize": 14, "align": "left", "dx": 1.8, "color": "#222"}, "encoding": {"x": {"datum": -0.78, "type": "quantitative", "scale": {"domain": [0, 2], "range": [92.1, 160], "nice": false, "zero": false}, "axis": null}, "y": {"datum": -3.26, "type": "quantitative"}}}
      ]},
     {"data": {"values": [
       {"grade": "1", "low": 5.1, "q1": 5.8, "median": 6.15, "q3": 6.95, "high": 10.6, "n": 165},
       {"grade": "2", "low": 4.9, "q1": 5.9, "median": 6.25, "q3": 7.05, "high": 12.95, "n": 740},
       {"grade": "3", "low": 5.0, "q1": 5.9, "median": 6.85, "q3": 8.35, "high": 14.25, "n": 928}
      ]},
      "encoding": {"x": {"field": "grade", "type": "nominal", "sort": null, "scale": {"range": [69, 183], "paddingInner": 0.3, "paddingOuter": 0.33},
         "axis": {"title": null, "labelAngle": 0, "labelFontSize": 14, "labelColor": "#222", "offset": -62, "tickSize": 6, "domainWidth": 2, "tickWidth": 2, "labelPadding": 3}}},
      "layer": [
       {"mark": {"type": "rule", "strokeWidth": 2, "color": "#000"}, "encoding": {
         "y": {"field": "low", "type": "quantitative", "scale": {"domain": [0, 15], "range": [243, 73], "nice": false, "zero": false},
               "axis": {"title": "LCN2 expression, mean log2", "values": [0, 5, 10, 15], "offset": -69, "labelFontSize": 14, "labelColor": "#222", "titleFontSize": 14, "titleColor": "#333", "tickSize": 6, "domainWidth": 2, "tickWidth": 2, "labelPadding": 3, "titlePadding": 4}},
         "y2": {"field": "high"}}},
       {"mark": {"type": "bar", "fill": "#fff", "stroke": "#000", "strokeWidth": 2}, "encoding": {"y": {"field": "q1", "type": "quantitative"}, "y2": {"field": "q3"}}},
       {"mark": {"type": "tick", "color": "#000", "thickness": 2, "size": 24}, "encoding": {"y": {"field": "median", "type": "quantitative"}}},
       {"mark": {"type": "tick", "color": "#000", "thickness": 2, "size": 16}, "encoding": {"y": {"field": "low", "type": "quantitative"}}},
       {"mark": {"type": "tick", "color": "#000", "thickness": 2, "size": 16}, "encoding": {"y": {"field": "high", "type": "quantitative"}}},
       {"mark": {"type": "text", "fontSize": 14, "color": "#222"}, "encoding": {"y": {"datum": -3.26, "type": "quantitative"}, "text": {"field": "n"}}}
      ]}
    ]}
  ]}
 ]}
]
}
